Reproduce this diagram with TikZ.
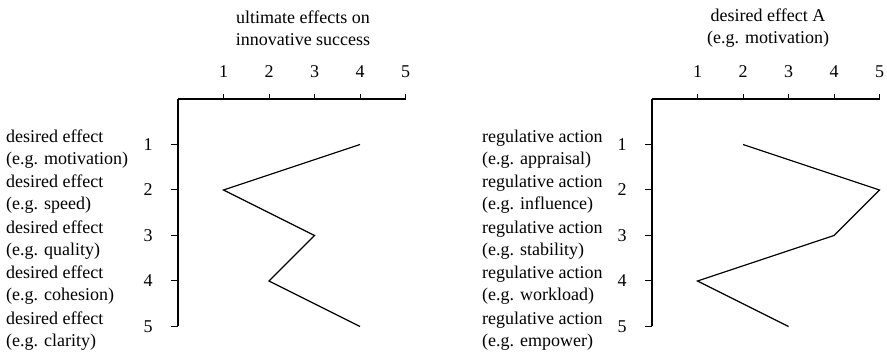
\documentclass[tikz,border=0pt]{standalone}
\usepackage{fontspec}
\setmainfont{Liberation Serif}
\begin{document}
\begin{tikzpicture}[x=1pt,y=-1pt,
  axisline/.style={line width=1.2pt},
  tickmark/.style={line width=1pt},
  profile/.style={line width=1.2pt, line join=miter},
  lbl/.style={font=\fontsize{18}{22}\selectfont, inner sep=0pt},
  rowlbl/.style={lbl, align=left, anchor=west},
  title/.style={lbl, align=center}]
\useasboundingbox (0,0) rectangle (887,352);

% two profile charts: axes, ticks and tick numbers
\foreach \c/\x in {L/178, R/652} {
  \draw[axisline] (\x,99) -- (\x+227.5,99);
  \draw[axisline] (\x,99) -- (\x,326.5);
  \foreach \v in {1,...,5} {
    \draw[tickmark] (\x+45.5*\v,99) -- ++(0,-5);
    \node[lbl] (\c-xt\v) at (\x+45.5*\v,72) {\v};
    \draw[tickmark] (\x,99+45.5*\v) -- ++(-7,0);
    \node[lbl] (\c-yt\v) at (\x-30,99+45.5*\v) {\v};
  }
}

% titles
\node[title] (L-title) at (303,28) {ultimate effects on\\innovative success};
\node[title] (R-title) at (768,28) {desired effect A\\(e.g. motivation)};

% row labels, left chart
\node[rowlbl] (L-r1) at (6,149) {desired effect\\(e.g. motivation)};
\node[rowlbl] (L-r2) at (6,194.5) {desired effect\\(e.g. speed)};
\node[rowlbl] (L-r3) at (6,240) {desired effect\\(e.g. quality)};
\node[rowlbl] (L-r4) at (6,285.5) {desired effect\\(e.g. cohesion)};
\node[rowlbl] (L-r5) at (6,331) {desired effect\\(e.g. clarity)};

% row labels, right chart
\node[rowlbl] (R-r1) at (482,149) {regulative action\\(e.g. appraisal)};
\node[rowlbl] (R-r2) at (482,194.5) {regulative action\\(e.g. influence)};
\node[rowlbl] (R-r3) at (482,240) {regulative action\\(e.g. stability)};
\node[rowlbl] (R-r4) at (482,285.5) {regulative action\\(e.g. workload)};
\node[rowlbl] (R-r5) at (482,331) {regulative action\\(e.g. empower)};

% profile points
\foreach \r/\v in {1/4, 2/1, 3/3, 4/2, 5/4}
  \coordinate (L-p\r) at (178+45.5*\v, 99+45.5*\r);
\foreach \r/\v in {1/2, 2/5, 3/4, 4/1, 5/3}
  \coordinate (R-p\r) at (652+45.5*\v, 99+45.5*\r);

\draw[profile] (L-p1) -- (L-p2) -- (L-p3) -- (L-p4) -- (L-p5);
\draw[profile] (R-p1) -- (R-p2) -- (R-p3) -- (R-p4) -- (R-p5);
\end{tikzpicture}
\end{document}
